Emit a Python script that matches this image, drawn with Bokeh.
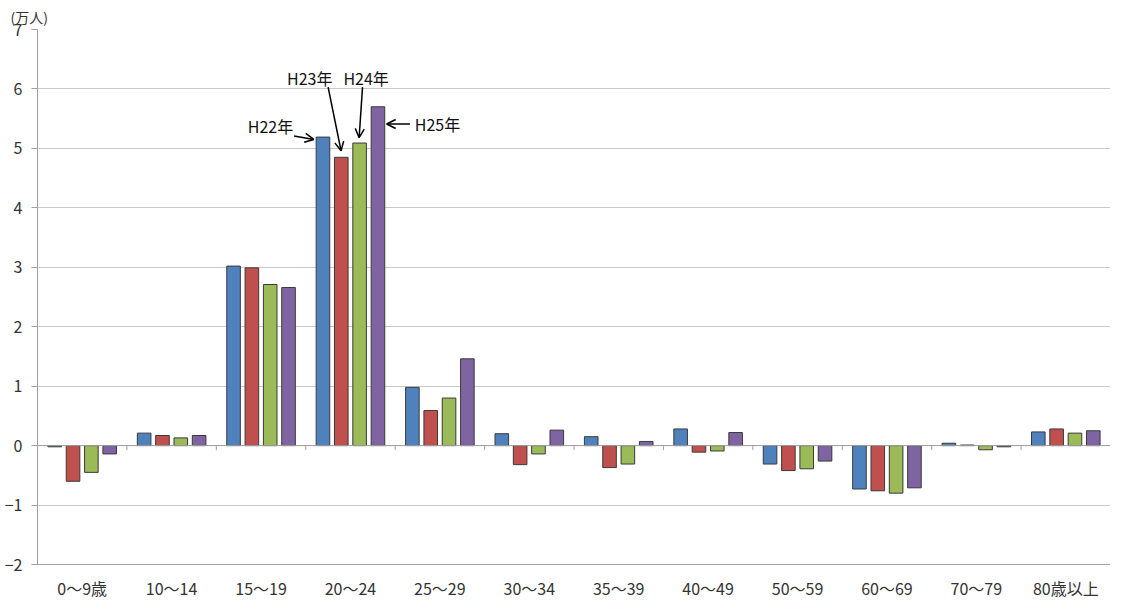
from bokeh.plotting import figure
from bokeh.models import Range1d, FixedTicker, Span, Label, Arrow, OpenHead, ColumnDataSource, Title
from bokeh.transform import dodge
from bokeh.embed import file_html
from bokeh.resources import INLINE

categories = ["0～9歳", "10～14", "15～19", "20～24", "25～29", "30～34",
              "35～39", "40～49", "50～59", "60～69", "70～79", "80歳以上"]
series_names = ["H22年", "H23年", "H24年", "H25年"]
h22 = [-0.02, 0.21, 3.02, 5.19, 0.98, 0.20, 0.15, 0.28, -0.31, -0.73, 0.04, 0.23]
h23 = [-0.60, 0.17, 2.99, 4.85, 0.59, -0.32, -0.37, -0.11, -0.42, -0.76, 0.01, 0.28]
h24 = [-0.45, 0.13, 2.71, 5.09, 0.80, -0.14, -0.31, -0.09, -0.39, -0.80, -0.07, 0.21]
h25 = [-0.14, 0.17, 2.66, 5.70, 1.46, 0.26, 0.07, 0.22, -0.26, -0.71, -0.02, 0.25]
series_values = [h22, h23, h24, h25]
colors = ["#4F81BD", "#C0504D", "#9BBB59", "#8064A2"]
y_ticks = [-2, -1, 0, 1, 2, 3, 4, 5, 6, 7]
unit_label = "(万人)"

FONT = "Noto Sans CJK JP"
GRID = "#C8C8C8"
AXIS = "#A0A0A0"
n = len(categories)

p = figure(width=1110, height=602, x_range=Range1d(0, n), y_range=Range1d(y_ticks[0], y_ticks[-1]),
           output_backend="svg", toolbar_location=None,
           min_border_left=37, min_border_right=0, min_border_top=29, min_border_bottom=28)
p.outline_line_color = None
p.background_fill_color = "white"

# unit label as a left-aligned title above the frame
p.add_layout(Title(text=unit_label, align="left", offset=-27, standoff=2, vertical_align="top",
                   text_font=FONT, text_font_size="14px", text_font_style="normal",
                   text_color="#333333"), "above")

# axes
p.xgrid.grid_line_color = None
p.ygrid.grid_line_color = GRID
p.ygrid.ticker = FixedTicker(ticks=y_ticks)

p.yaxis.ticker = FixedTicker(ticks=y_ticks)
p.yaxis.axis_line_color = AXIS
p.yaxis.major_tick_line_color = AXIS
p.yaxis.major_tick_out = 6
p.yaxis.major_tick_in = 0
p.yaxis.minor_tick_line_color = None
p.yaxis.major_label_text_font = FONT
p.yaxis.major_label_text_font_size = "16px"
p.yaxis.major_label_text_color = "#333333"
p.yaxis.major_label_standoff = 9

centers = [i + 0.5 for i in range(n)]
p.xaxis.ticker = FixedTicker(ticks=centers)
p.xaxis.major_label_overrides = {c: lab for c, lab in zip(centers, categories)}
p.xaxis.axis_line_color = AXIS
p.xaxis.major_tick_line_color = None
p.xaxis.major_tick_out = 0
p.xaxis.major_tick_in = 0
p.xaxis.minor_tick_line_color = None
p.xaxis.major_label_text_font = FONT
p.xaxis.major_label_text_font_size = "16px"
p.xaxis.major_label_text_color = "#333333"
p.xaxis.major_label_standoff = 11

# zero line + category separators
p.add_layout(Span(location=0, dimension="width", line_color=AXIS, line_width=1))
bounds = list(range(1, n))
p.segment(x0=bounds, y0=[0] * len(bounds), x1=bounds, y1=[-0.075] * len(bounds),
          line_color=AXIS, line_width=1)

# bars
offsets = [-0.3075, -0.1025, 0.1025, 0.3075]
for name, vals, col, off in zip(series_names, series_values, colors, offsets):
    src = ColumnDataSource(dict(x=centers, top=vals))
    p.vbar(x=dodge("x", off), top="top", bottom=0, width=0.152, source=src,
           fill_color=col, line_color="#3a3a3a", line_width=1)

# annotations for the 20~24 group
def ann(text, tx, ty, align, x0, y0, x1, y1):
    p.add_layout(Label(x=tx, y=ty, text=text, text_font=FONT, text_font_size="16px",
                       text_align=align, text_baseline="middle", text_color="#111111"))
    p.add_layout(Arrow(end=OpenHead(size=9, line_width=1.5, line_color="black"),
                       x_start=x0, y_start=y0, x_end=x1, y_end=y1,
                       line_width=1.5, line_color="black"))

ann(series_names[0], 2.86, 5.385, "right", 2.87, 5.21, 3.09, 5.15)
ann(series_names[1], 3.045, 6.19, "center", 3.25, 6.03, 3.395, 4.96)
ann(series_names[2], 3.675, 6.19, "center", 3.635, 6.03, 3.597, 5.18)
ann(series_names[3], 4.22, 5.41, "left", 4.165, 5.41, 3.905, 5.41)

open("out.html", "w").write(file_html(p, INLINE))
